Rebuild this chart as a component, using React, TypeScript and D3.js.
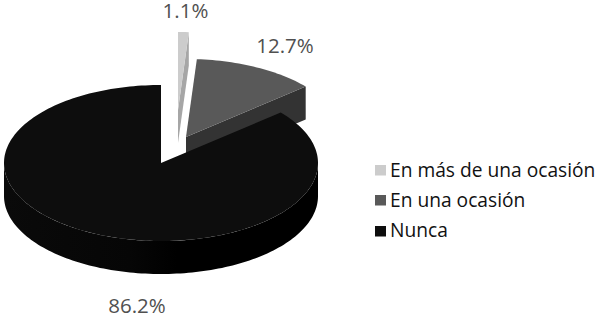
import React from "react";
import * as d3 from "d3";

const categories = ["En más de una ocasión", "En una ocasión", "Nunca"];
const values = [1.1, 12.7, 86.2];
const labels = ["1.1%", "12.7%", "86.2%"];
const topColors = ["#cccccc", "#595959", "#0d0d0d"];
const sideColors = ["#a6a6a6", "#333333", "url(#wall)"];

const CX = 161, CY = 163, RX = 157, RY = 78, DEPTH = 33;
const offsets: [number, number][] = [[17, -53], [25, -26], [0, 0]];
const labelPos: [number, number][] = [[185.5, 18], [285, 52.5], [137, 313]];
const legendSwatchY = [165, 195, 226];
const legendTextY = [176.5, 207, 237];
const fonts = "'Open Sans', sans-serif";

const pie = d3.pie<number>().sort(null)(values);
const xr = d3.scaleLinear().domain([0, 1]).range([0, RX]);
const yr = d3.scaleLinear().domain([0, 1]).range([0, RY]);
const pt = (a: number, ox: number, oy: number, dz = 0): [number, number] => [
  CX + ox + xr(Math.sin(a)),
  CY + oy - yr(Math.cos(a)) + dz,
];
function arcPts(a0: number, a1: number, ox: number, oy: number, dz = 0) {
  const n = Math.max(2, Math.ceil(Math.abs(a1 - a0) * 40));
  return d3.range(n + 1).map((i) => pt(a0 + ((a1 - a0) * i) / n, ox, oy, dz));
}
const line = d3.line();
const clamp = (a0: number, a1: number) => {
  const lo = Math.max(a0, Math.PI / 2), hi = Math.min(a1, (3 * Math.PI) / 2);
  return hi > lo ? [lo, hi] : null;
};

export default function App() {
  const order = [0, 1, 2];
  return (
    <svg width={602} height={319} style={{ position: "absolute", left: 0, top: 0, background: "#fff" }}>
      <defs>
        <linearGradient id="wall" x1="0" x2="1" y1="0" y2="0">
          <stop offset="0" stopColor="#0a0a0a" />
          <stop offset="0.4" stopColor="#060606" />
          <stop offset="0.55" stopColor="#000000" />
          <stop offset="1" stopColor="#000000" />
        </linearGradient>
      </defs>
      {order.map((i) => {
        const { startAngle: a0, endAngle: a1 } = pie[i];
        const [ox, oy] = offsets[i];
        const apexT: [number, number] = [CX + ox, CY + oy];
        const apexB: [number, number] = [CX + ox, CY + oy + DEPTH];
        const wall = clamp(a0, a1);
        const top = [apexT, ...arcPts(a0, a1, ox, oy)];
        const cut = [apexT, pt(a1, ox, oy), pt(a1, ox, oy, DEPTH), apexB];
        return (
          <g key={categories[i]}>
            {i < 2 && <path d={line(cut) + "Z"} fill={sideColors[i]} />}
            {wall && (
              <path
                d={line([...arcPts(wall[0], wall[1], ox, oy), ...arcPts(wall[1], wall[0], ox, oy, DEPTH)]) + "Z"}
                fill={sideColors[i]}
              />
            )}
            <path d={line(top) + "Z"} fill={topColors[i]} />
          </g>
        );
      })}
      {labels.map((t, i) => (
        <text key={t} x={labelPos[i][0]} y={labelPos[i][1]} textAnchor="middle" fontFamily={fonts} fontSize={20.5} fill="#505050">
          {t}
        </text>
      ))}
      {categories.map((c, i) => (
        <g key={c}>
          <rect x={375} y={legendSwatchY[i]} width={11} height={10.5} fill={topColors[i]} />
          <text x={390} y={legendTextY[i]} fontFamily={fonts} fontSize={19.2} fill="#111">
            {c}
          </text>
        </g>
      ))}
    </svg>
  );
}
